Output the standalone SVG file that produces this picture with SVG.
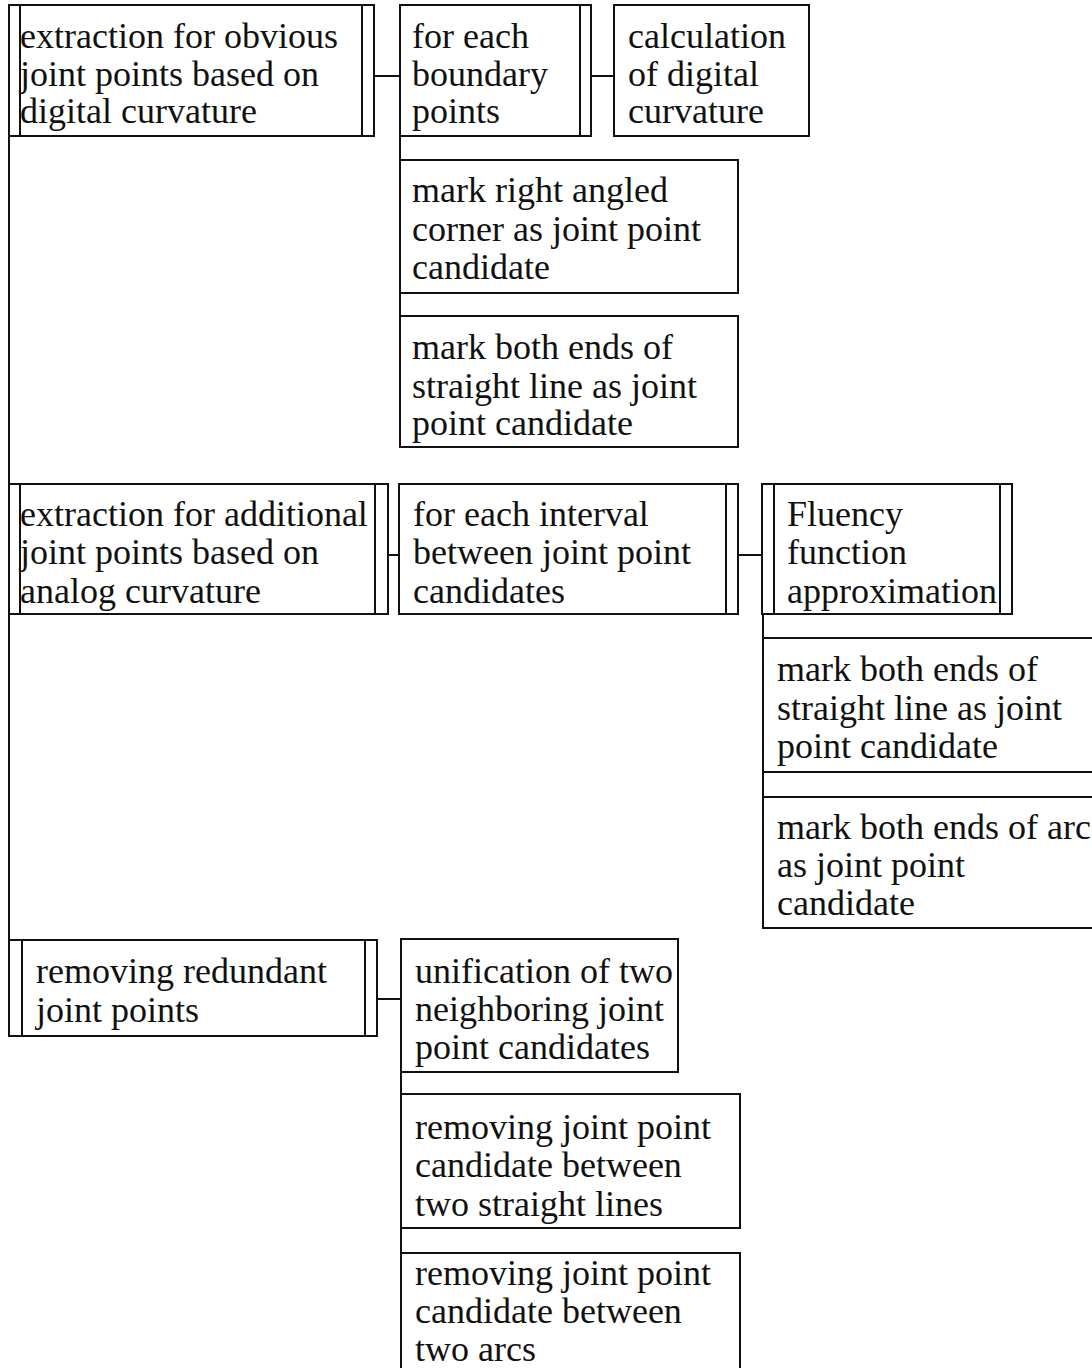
<svg xmlns="http://www.w3.org/2000/svg" width="1092" height="1368" viewBox="0 0 1092 1368">
  <style>
    .box { fill: #fff; stroke: #111; stroke-width: 2; }
    .bar { stroke: #111; stroke-width: 2; }
    .link { stroke: #111; stroke-width: 2; fill: none; }
    text { font-family: "Liberation Serif", "Times New Roman", serif; font-size: 36px; fill: #111; }
  </style>
  <rect width="1092" height="1368" fill="#fff"/>

  <!-- tree connectors -->
  <g id="connectors">
    <path class="link" d="M9 136V484M9 614V940"/>
    <path class="link" d="M374 76H400M591 76H614"/>
    <path class="link" d="M400 136V316"/>
    <path class="link" d="M388 555H399M738 555H762"/>
    <path class="link" d="M763 614V797"/>
    <path class="link" d="M377 999H401"/>
    <path class="link" d="M401 1072V1253"/>
  </g>

  <g id="obvious-joints">
    <rect class="box" x="9" y="5" width="365" height="131"/>
    <line class="bar" x1="20" y1="5" x2="20" y2="136"/>
    <line class="bar" x1="362" y1="5" x2="362" y2="136"/>
    <text x="20" y="48">extraction for obvious</text>
    <text x="20" y="86">joint points based on</text>
    <text x="20" y="123">digital curvature</text>
  </g>

  <g id="each-boundary">
    <rect class="box" x="400" y="5" width="191" height="131"/>
    <line class="bar" x1="580" y1="5" x2="580" y2="136"/>
    <text x="412" y="48">for each</text>
    <text x="412" y="86">boundary</text>
    <text x="412" y="123">points</text>
  </g>

  <g id="digital-curvature">
    <rect class="box" x="614" y="5" width="195" height="131"/>
    <text x="628" y="48">calculation</text>
    <text x="628" y="86">of digital</text>
    <text x="628" y="123">curvature</text>
  </g>

  <g id="mark-corner">
    <rect class="box" x="400" y="160" width="338" height="133"/>
    <text x="412" y="202">mark right angled</text>
    <text x="412" y="241">corner as joint point</text>
    <text x="412" y="279">candidate</text>
  </g>

  <g id="mark-line-ends-1">
    <rect class="box" x="400" y="316" width="338" height="131"/>
    <text x="412" y="359">mark both ends of</text>
    <text x="412" y="398">straight line as joint</text>
    <text x="412" y="435">point candidate</text>
  </g>

  <g id="additional-joints">
    <rect class="box" x="9" y="484" width="379" height="130"/>
    <line class="bar" x1="20" y1="484" x2="20" y2="614"/>
    <line class="bar" x1="375" y1="484" x2="375" y2="614"/>
    <text x="20" y="526">extraction for additional</text>
    <text x="20" y="564">joint points based on</text>
    <text x="20" y="603">analog curvature</text>
  </g>

  <g id="each-interval">
    <rect class="box" x="399" y="484" width="339" height="130"/>
    <line class="bar" x1="726" y1="484" x2="726" y2="614"/>
    <text x="413" y="526">for each interval</text>
    <text x="413" y="564">between joint point</text>
    <text x="413" y="603">candidates</text>
  </g>

  <g id="fluency">
    <rect class="box" x="762" y="484" width="250" height="130"/>
    <line class="bar" x1="774" y1="484" x2="774" y2="614"/>
    <line class="bar" x1="1000" y1="484" x2="1000" y2="614"/>
    <text x="787" y="526">Fluency</text>
    <text x="787" y="564">function</text>
    <text x="787" y="603">approximation</text>
  </g>

  <g id="mark-line-ends-2">
    <rect class="box" x="763" y="638" width="340" height="134"/>
    <text x="777" y="681">mark both ends of</text>
    <text x="777" y="720">straight line as joint</text>
    <text x="777" y="758">point candidate</text>
  </g>

  <g id="mark-arc-ends">
    <rect class="box" x="763" y="797" width="340" height="131"/>
    <text x="777" y="839">mark both ends of arc</text>
    <text x="777" y="877">as joint point</text>
    <text x="777" y="915">candidate</text>
  </g>

  <g id="remove-redundant">
    <rect class="box" x="9" y="940" width="368" height="96"/>
    <line class="bar" x1="22" y1="940" x2="22" y2="1036"/>
    <line class="bar" x1="365" y1="940" x2="365" y2="1036"/>
    <text x="36" y="983">removing redundant</text>
    <text x="36" y="1022">joint points</text>
  </g>

  <g id="unify-neighbors">
    <rect class="box" x="401" y="939" width="277" height="133"/>
    <text x="415" y="983">unification of two</text>
    <text x="415" y="1021">neighboring joint</text>
    <text x="415" y="1059">point candidates</text>
  </g>

  <g id="remove-between-lines">
    <rect class="box" x="401" y="1094" width="339" height="134"/>
    <text x="415" y="1139">removing joint point</text>
    <text x="415" y="1177">candidate between</text>
    <text x="415" y="1216">two straight lines</text>
  </g>

  <g id="remove-between-arcs">
    <rect class="box" x="401" y="1253" width="339" height="130"/>
    <text x="415" y="1285">removing joint point</text>
    <text x="415" y="1323">candidate between</text>
    <text x="415" y="1361">two arcs</text>
  </g>
</svg>
